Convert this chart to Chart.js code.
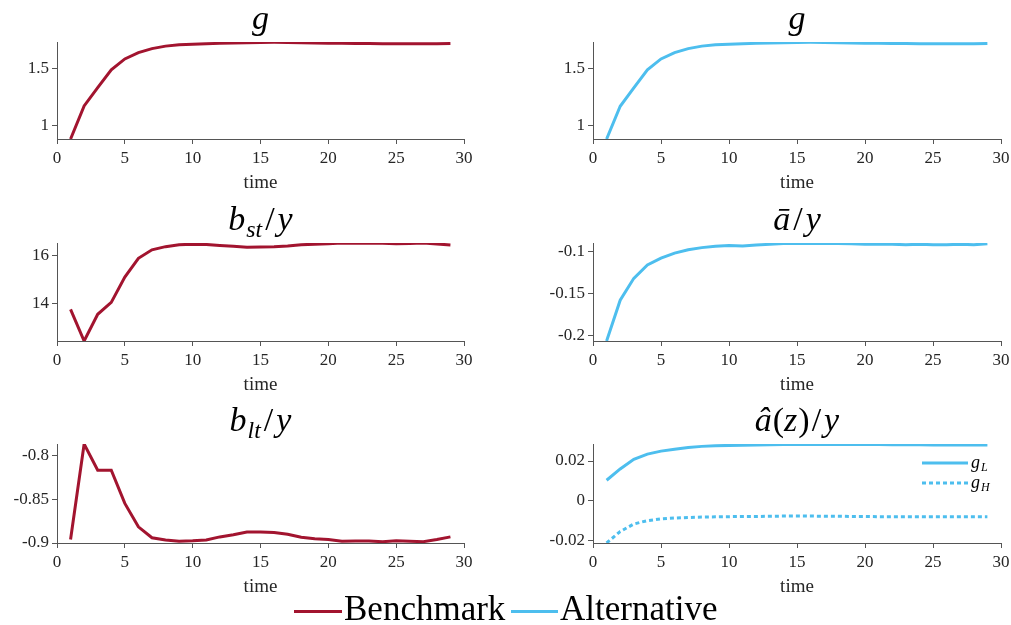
<!DOCTYPE html>
<html>
<head>
<meta charset="utf-8">
<script src="https://cdn.jsdelivr.net/npm/chart.js@4.4.1/dist/chart.umd.min.js"></script>
<style>
  body { margin: 0; background: #fff; }
  #fig { position: relative; width: 1011px; height: 625px; overflow: hidden; background: #fff; }
  #fig canvas { position: absolute; }
  .key { position: absolute; font-family: 'Liberation Serif', serif; font-size: 35px; line-height: 35px; color: #000; white-space: nowrap; }
  .swatch { position: absolute; height: 3px; }
</style>
</head>
<body>
<div id="fig">
  <canvas id="g-bench"></canvas>
  <canvas id="g-alt"></canvas>
  <canvas id="bst-bench"></canvas>
  <canvas id="abar-alt"></canvas>
  <canvas id="blt-bench"></canvas>
  <canvas id="ahat-alt"></canvas>

  <div class="swatch" style="left:294px;top:610px;width:48px;background:#A2142F"></div>
  <span class="key" style="left:344px;top:591px">Benchmark</span>
  <div class="swatch" style="left:511px;top:610px;width:47px;background:#4DBEEE"></div>
  <span class="key" style="left:560px;top:591px">Alternative</span>
</div>

<script>
// Data
const time = [1, 2, 3, 4, 5, 6, 7, 8, 9, 10, 11, 12, 13, 14, 15, 16, 17, 18, 19, 20, 21, 22, 23, 24, 25, 26, 27, 28, 29];
const xTicks = [0, 5, 10, 15, 20, 25, 30];

const gBenchmark = [0.886, 1.175, 1.335, 1.49, 1.585, 1.64, 1.675, 1.697, 1.708, 1.714, 1.718, 1.721, 1.724, 1.727, 1.729,
  1.730, 1.729, 1.727, 1.725, 1.723, 1.721, 1.720, 1.719, 1.718, 1.718, 1.717, 1.717, 1.718, 1.720];
const gAlternative = [0.886, 1.172, 1.333, 1.49, 1.585, 1.64, 1.675, 1.697, 1.708, 1.714, 1.718, 1.721, 1.724, 1.727, 1.729,
  1.730, 1.729, 1.727, 1.725, 1.723, 1.721, 1.720, 1.719, 1.718, 1.718, 1.717, 1.717, 1.718, 1.720];
const bstBenchmark = [13.77, 12.47, 13.57, 14.06, 15.1, 15.87, 16.22, 16.35, 16.43, 16.45, 16.44, 16.4, 16.37, 16.33, 16.34,
  16.35, 16.38, 16.43, 16.45, 16.47, 16.5, 16.49, 16.49, 16.49, 16.47, 16.48, 16.5, 16.46, 16.42];
const abarAlternative = [-0.2065, -0.158, -0.132, -0.116, -0.108, -0.102, -0.098, -0.0955, -0.094, -0.093, -0.0935, -0.0925,
  -0.0915, -0.0905, -0.0905, -0.0905, -0.0905, -0.0905, -0.091, -0.0915, -0.0915, -0.0915, -0.092, -0.0915, -0.092, -0.092,
  -0.0915, -0.092, -0.091];
const bltBenchmark = [-0.896, -0.7865, -0.8165, -0.8165, -0.8546, -0.8815, -0.894, -0.8965, -0.898, -0.8975, -0.8965, -0.893,
  -0.8905, -0.8873, -0.8873, -0.888, -0.890, -0.8935, -0.895, -0.896, -0.898, -0.8978, -0.8978, -0.8985, -0.8975, -0.898,
  -0.8985, -0.896, -0.893];
const ahatLow = [0.0103, 0.016, 0.0209, 0.0235, 0.025, 0.026, 0.0268, 0.0274, 0.0277, 0.0279, 0.028, 0.0281, 0.0282, 0.0283,
  0.0284, 0.0284, 0.0284, 0.0284, 0.0283, 0.0283, 0.0283, 0.0282, 0.0282, 0.0282, 0.0281, 0.0281, 0.0281, 0.0281, 0.0281];
const ahatHigh = [-0.0214, -0.0156, -0.0118, -0.0101, -0.0092, -0.0088, -0.0085, -0.0083, -0.0082, -0.0081, -0.008, -0.008,
  -0.0079, -0.0078, -0.0078, -0.0078, -0.0079, -0.0079, -0.008, -0.008, -0.0081, -0.0081, -0.0081, -0.0081, -0.0081,
  -0.0081, -0.0081, -0.0081, -0.0081];

// Y axes: limits, ticks and their labels
const gLimits = [0.886, 1.733];
const gTicks = [1, 1.5];
const gLabels = ['1', '1.5'];
const bstLimits = [12.47, 16.5];
const bstTicks = [14, 16];
const bstLabels = ['14', '16'];
const abarLimits = [-0.2065, -0.09];
const abarTicks = [-0.2, -0.15, -0.1];
const abarLabels = ['-0.2', '-0.15', '-0.1'];
const bltLimits = [-0.9, -0.7865];
const bltTicks = [-0.9, -0.85, -0.8];
const bltLabels = ['-0.9', '-0.85', '-0.8'];
const ahatLimits = [-0.0214, 0.0286];
const ahatTicks = [-0.02, 0, 0.02];
const ahatLabels = ['-0.02', '0', '0.02'];

const benchColor = '#A2142F';
const altColor = '#4DBEEE';
const axisColor = '#555555';
const serif = "'Liberation Serif', 'Times New Roman', serif";

// Title with italic letters and subscripts
const mathTitle = {
  id: 'mathTitle',
  afterDraw(chart, args, options) {
    const { ctx, chartArea } = chart;
    const size = 34;
    ctx.save();
    let total = 0;
    const parts = options.parts.map(p => {
      const fs = p.sub ? size * 0.7 : size;
      const font = `${p.italic ? 'italic ' : ''}${fs}px ${serif}`;
      ctx.font = font;
      const w = ctx.measureText(p.text).width + (p.gap || 0);
      total += w;
      return { ...p, font, w };
    });
    let x = (chartArea.left + chartArea.right) / 2 - total / 2;
    const base = chartArea.top - 13;
    ctx.fillStyle = '#000';
    ctx.textBaseline = 'alphabetic';
    ctx.textAlign = 'left';
    parts.forEach(p => {
      ctx.font = p.font;
      ctx.fillText(p.text, x, base + (p.sub ? size * 0.2 : 0));
      x += p.w;
    });
    ctx.restore();
  }
};

// Small key inside the last panel
const insetKey = {
  id: 'insetKey',
  afterDraw(chart, args, options) {
    const { ctx, chartArea } = chart;
    ctx.save();
    chart.data.datasets.forEach((ds, i) => {
      const y = chartArea.top + 19 + i * 20;
      ctx.strokeStyle = ds.borderColor;
      ctx.lineWidth = 3;
      ctx.setLineDash(ds.borderDash || []);
      ctx.beginPath();
      ctx.moveTo(chartArea.right - 79, y);
      ctx.lineTo(chartArea.right - 33, y);
      ctx.stroke();
      ctx.fillStyle = '#000';
      ctx.font = `italic 18px ${serif}`;
      ctx.fillText('g', chartArea.right - 30, y + 5);
      const gw = ctx.measureText('g').width;
      ctx.font = `italic 12px ${serif}`;
      ctx.fillText(options.labels[i], chartArea.right - 30 + gw + 1, y + 8);
    });
    ctx.restore();
  }
};

function makePanel(id, panel) {
  const canvas = document.getElementById(id);
  canvas.width = panel.w;
  canvas.height = panel.h;
  canvas.style.left = panel.x + 'px';
  canvas.style.top = panel.y + 'px';

  const datasets = panel.series.map(s => ({
    data: time.map((t, i) => ({ x: t, y: s.values[i] })),
    borderColor: s.color,
    borderWidth: 3,
    borderDash: s.dash || [],
    borderCapStyle: 'butt',
    pointRadius: 0,
    fill: false,
    tension: 0
  }));

  return new Chart(canvas, {
    type: 'line',
    data: { datasets },
    options: {
      responsive: false,
      animation: false,
      events: [],
      layout: {
        padding: { top: panel.padTop, right: panel.padRight, left: 0, bottom: 0 }
      },
      plugins: {
        legend: { display: false },
        tooltip: { enabled: false },
        mathTitle: { parts: panel.title },
        insetKey: { labels: panel.keys || [] }
      },
      scales: {
        x: {
          type: 'linear',
          min: 0,
          max: 30,
          afterBuildTicks: scale => {
            scale.ticks = xTicks.map(v => ({ value: v }));
          },
          afterFit: scale => {
            scale.height = 61;
            // keep the plot width fixed, labels may hang over the edge
            scale.paddingLeft = 0;
            scale.paddingRight = 0;
          },
          grid: { drawOnChartArea: false, tickLength: 5, color: axisColor },
          border: { color: axisColor, width: 1 },
          ticks: {
            font: { family: serif, size: 17 },
            color: '#262626',
            padding: 4,
            maxRotation: 0,
            autoSkip: false
          },
          title: {
            display: true,
            text: 'time',
            font: { family: serif, size: 19 },
            color: '#262626',
            padding: { top: 0, bottom: 6 }
          }
        },
        y: {
          type: 'linear',
          min: panel.limits[0],
          max: panel.limits[1],
          afterBuildTicks: scale => {
            scale.ticks = panel.ticks.map(v => ({ value: v }));
          },
          afterFit: scale => {
            scale.width = panel.yWidth;
          },
          grid: { drawOnChartArea: false, tickLength: 5, color: axisColor },
          border: { color: axisColor, width: 1 },
          ticks: {
            font: { family: serif, size: 17 },
            color: '#262626',
            padding: 3,
            callback: (value, index) => panel.labels[index]
          }
        }
      }
    },
    plugins: panel.keys ? [mathTitle, insetKey] : [mathTitle]
  });
}

// Grid of panels
const leftCol = { x: 0, w: 475, yWidth: 57, padRight: 11 };
const rightCol = { x: 530, w: 481, yWidth: 63, padRight: 10 };
const row1 = { y: 0, h: 200, padTop: 42 };
const row2 = { y: 200, h: 202, padTop: 43 };
const row3 = { y: 400, h: 204, padTop: 44 };

makePanel('g-bench', {
  ...leftCol, ...row1,
  series: [{ values: gBenchmark, color: benchColor }],
  limits: gLimits, ticks: gTicks, labels: gLabels,
  title: [{ text: 'g', italic: true }]
});

makePanel('g-alt', {
  ...rightCol, ...row1,
  series: [{ values: gAlternative, color: altColor }],
  limits: gLimits, ticks: gTicks, labels: gLabels,
  title: [{ text: 'g', italic: true }]
});

makePanel('bst-bench', {
  ...leftCol, ...row2,
  series: [{ values: bstBenchmark, color: benchColor }],
  limits: bstLimits, ticks: bstTicks, labels: bstLabels,
  title: [{ text: 'b', italic: true, gap: 1 }, { text: 'st', italic: true, sub: true, gap: 3 }, { text: '/', gap: 3 }, { text: 'y', italic: true }]
});

makePanel('abar-alt', {
  ...rightCol, ...row2,
  series: [{ values: abarAlternative, color: altColor }],
  limits: abarLimits, ticks: abarTicks, labels: abarLabels,
  title: [{ text: 'ā', italic: true, gap: 3 }, { text: '/', gap: 3 }, { text: 'y', italic: true }]
});

makePanel('blt-bench', {
  ...leftCol, ...row3,
  series: [{ values: bltBenchmark, color: benchColor }],
  limits: bltLimits, ticks: bltTicks, labels: bltLabels,
  title: [{ text: 'b', italic: true, gap: 1 }, { text: 'lt', italic: true, sub: true, gap: 3 }, { text: '/', gap: 3 }, { text: 'y', italic: true }]
});

makePanel('ahat-alt', {
  ...rightCol, ...row3,
  series: [
    { values: ahatLow, color: altColor },
    { values: ahatHigh, color: altColor, dash: [4, 3] }
  ],
  limits: ahatLimits, ticks: ahatTicks, labels: ahatLabels,
  keys: ['L', 'H'],
  title: [{ text: 'â', italic: true, gap: 1 }, { text: '(' }, { text: 'z', italic: true, gap: 1 }, { text: ')', gap: 2 }, { text: '/', gap: 3 }, { text: 'y', italic: true }]
});
</script>
</body>
</html>
